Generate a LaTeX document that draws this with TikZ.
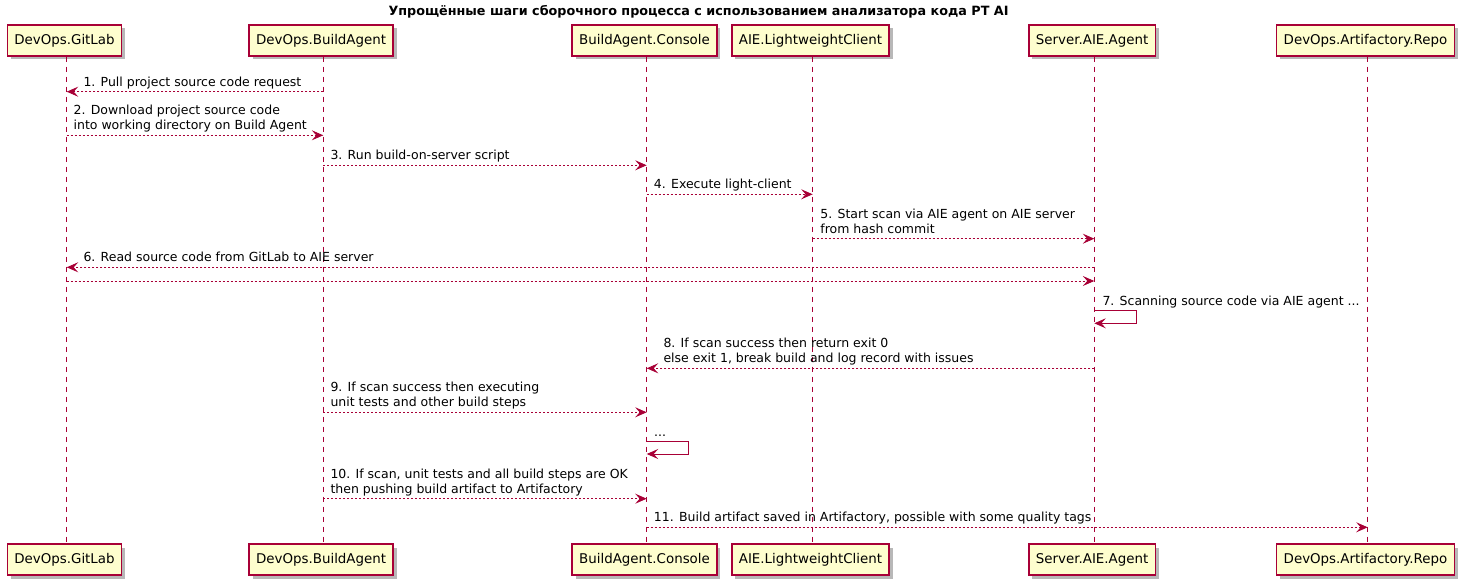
\documentclass[tikz,border=0pt]{standalone}
\usepackage{fontspec}
\setmainfont{DejaVu Sans}
\usetikzlibrary{arrows.meta,shadows,calc}
\definecolor{pu}{HTML}{A80036}
\definecolor{pbox}{HTML}{FEFECE}
\begin{document}
\begin{tikzpicture}[x=1pt,y=-1pt,
  part/.style={draw=pu,fill=pbox,line width=1.4pt,minimum height=31pt,inner xsep=7pt,inner ysep=0pt,
    font=\fontsize{13.4}{16}\selectfont,
    drop shadow={shadow xshift=3.5pt,shadow yshift=-3.5pt,opacity=0.28,fill=black}},
  life/.style={draw=pu,line width=1pt,dash pattern=on 5pt off 5pt},
  tip/.style={-{Stealth[length=11.5pt,width=10pt,inset=4.5pt]}},
  msg/.style={draw=pu,line width=0.9pt,dash pattern=on 2pt off 2pt,tip},
  selfmsg/.style={draw=pu,line width=1pt,tip},
  lbl/.style={anchor=south west,inner sep=0pt,align=left,font=\fontsize{12.5}{15}\selectfont},
  ttl/.style={font=\bfseries\fontsize{12.75}{16}\selectfont,inner sep=0pt}
]
\useasboundingbox (0,0) rectangle (1470,586);

\node[ttl] (title) at (698.5,11.5) {Упрощённые шаги сборочного процесса с использованием анализатора кода PT AI};

\coordinate (L1) at (66.7,0);
\coordinate (L2) at (323.3,0);
\coordinate (L3) at (646.7,0);
\coordinate (L4) at (812.7,0);
\coordinate (L5) at (1094.3,0);
\coordinate (L6) at (1367.7,0);

% participants top
\node[part] (t1) at (64.5,40.5) {DevOps.GitLab};
\node[part] (t2) at (321.1,40.5) {DevOps.BuildAgent};
\node[part] (t3) at (644.5,40.5) {BuildAgent.Console};
\node[part] (t4) at (810.5,40.5) {AIE.LightweightClient};
\node[part] (t5) at (1092.1,40.5) {Server.AIE.Agent};
\node[part] (t6) at (1365.5,40.5) {DevOps.Artifactory.Repo};
% participants bottom
\node[part] (b1) at (64.5,559.5) {DevOps.GitLab};
\node[part] (b2) at (321.1,559.5) {DevOps.BuildAgent};
\node[part] (b3) at (644.5,559.5) {BuildAgent.Console};
\node[part] (b4) at (810.5,559.5) {AIE.LightweightClient};
\node[part] (b5) at (1092.1,559.5) {Server.AIE.Agent};
\node[part] (b6) at (1365.5,559.5) {DevOps.Artifactory.Repo};

% lifelines
\foreach \i in {1,...,6}{
  \draw[life] (t\i.south -| L\i) -- (b\i.north -| L\i);
}

% 1
\draw[msg] (L2 |- 0,91.7) -- (L1 |- 0,91.7);
\node[lbl] (m1) at (83.3,91.0) {1. Pull project source code request\strut};
% 2
\draw[msg] (L1 |- 0,135.3) -- (L2 |- 0,135.3);
\node[lbl] (m2) at (73.4,134.6) {2. Download project source code\\into working directory on Build Agent\strut};
% 3
\draw[msg] (L2 |- 0,165.3) -- (L3 |- 0,165.3);
\node[lbl] (m3) at (330.3,164.6) {3. Run build-on-server script\strut};
% 4
\draw[msg] (L3 |- 0,194.3) -- (L4 |- 0,194.3);
\node[lbl] (m4) at (653.7,193.6) {4. Execute light-client\strut};
% 5
\draw[msg] (L4 |- 0,238.7) -- (L5 |- 0,238.7);
\node[lbl] (m5) at (820.2,238.0) {5. Start scan via AIE agent on AIE server\\from hash commit\strut};
% 6
\draw[msg] (L5 |- 0,267.3) -- (L1 |- 0,267.3);
\node[lbl] (m6) at (83.3,266.6) {6. Read source code from GitLab to AIE server\strut};
% return
\draw[msg] (L1 |- 0,281) -- (L5 |- 0,281);
% 7 self
\draw[selfmsg] (L5 |- 0,310.7) -- ++(42.4,0) -- ++(0,12.6) -- (L5 |- 0,323.3);
\node[lbl] (m7) at (1102.3,310.2) {7. Scanning source code via AIE agent ...\strut};
% 8
\draw[msg] (L5 |- 0,368.3) -- (L3 |- 0,368.3);
\node[lbl] (m8) at (663.3,367.6) {8. If scan success then return exit 0\\else exit 1, break build and log record with issues\strut};
% 9
\draw[msg] (L2 |- 0,412.3) -- (L3 |- 0,412.3);
\node[lbl] (m9) at (330.3,411.6) {9. If scan success then executing\\unit tests and other build steps\strut};
% self ...
\draw[selfmsg] (L3 |- 0,441.3) -- ++(42,0) -- ++(0,12.7) -- (L3 |- 0,454);
\node[lbl] (md) at (654,440.8) {...\strut};
% 10
\draw[msg] (L2 |- 0,498.7) -- (L3 |- 0,498.7);
\node[lbl] (m10) at (330.3,498.0) {10. If scan, unit tests and all build steps are OK\\then pushing build artifact to Artifactory\strut};
% 11
\draw[msg] (L3 |- 0,527.3) -- (L6 |- 0,527.3);
\node[lbl] (m11) at (653.7,526.6) {11. Build artifact saved in Artifactory, possible with some quality tags\strut};
\end{tikzpicture}
\end{document}
